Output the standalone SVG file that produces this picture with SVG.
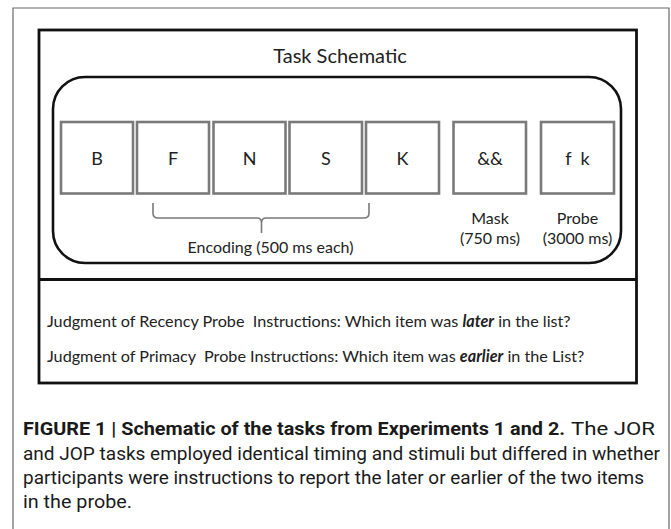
<svg xmlns="http://www.w3.org/2000/svg" width="671" height="529" viewBox="0 0 671 529">
  <style>
    .frame { fill: none; stroke: #6a6a6a; stroke-width: 1.2; }
    .panel { fill: none; stroke: #111; stroke-width: 2.8; }
    .track { fill: none; stroke: #111; stroke-width: 2.6; }
    .box { fill: #fff; stroke: #7a7a7a; stroke-width: 2.6; }
    .sym { font-family: Lato, "Open Sans", sans-serif; font-size: 18px; fill: #222; text-anchor: middle; }
    .lbl { font-family: Lato, "Open Sans", sans-serif; font-size: 16px; fill: #222; text-anchor: middle; }
    .title { font-family: Lato, "Open Sans", sans-serif; font-size: 20px; fill: #222; text-anchor: middle; }
    .instr { font-family: Lato, "Open Sans", sans-serif; font-size: 16.2px; fill: #222; }
    .brace { fill: none; stroke: #7a7a7a; stroke-width: 1.6; }
    .cap { font-family: Roboto, "Liberation Sans", sans-serif; font-size: 19px; fill: #1a1a1a; }
    .capb { font-weight: bold; }
  </style>

  <rect width="671" height="529" fill="#fff"/>

  <!-- page frame (open at the bottom) -->
  <path class="frame" d="M13,529 V8 H669 V529"/>

  <!-- schematic panel -->
  <g id="panel">
    <rect class="panel" x="39" y="30" width="597.5" height="353"/>
    <line class="panel" x1="39" y1="279.5" x2="636.5" y2="279.5"/>
    <text class="title" x="340" y="63">Task Schematic</text>
  </g>

  <!-- trial timeline -->
  <g id="timeline">
    <rect class="track" x="53" y="77" width="568" height="186" rx="32" ry="32"/>
  </g>

  <g id="item-B">
    <rect class="box" x="61" y="122" width="72" height="71.5"/>
    <text class="sym" x="97" y="165">B</text>
  </g>
  <g id="item-F">
    <rect class="box" x="137" y="122" width="72" height="71.5"/>
    <text class="sym" x="173" y="165">F</text>
  </g>
  <g id="item-N">
    <rect class="box" x="213.5" y="122" width="72" height="71.5"/>
    <text class="sym" x="249.5" y="165">N</text>
  </g>
  <g id="item-S">
    <rect class="box" x="289.5" y="122" width="72.5" height="71.5"/>
    <text class="sym" x="326" y="165">S</text>
  </g>
  <g id="item-K">
    <rect class="box" x="366" y="122" width="73" height="71.5"/>
    <text class="sym" x="402.5" y="165">K</text>
  </g>
  <g id="mask">
    <rect class="box" x="453.5" y="122" width="72.5" height="71.5"/>
    <text class="sym" x="490" y="165">&amp;&amp;</text>
    <text class="lbl" x="490" y="224">Mask</text>
    <text class="lbl" x="490" y="244">(750 ms)</text>
  </g>
  <g id="probe">
    <rect class="box" x="541" y="122" width="73" height="71.5"/>
    <text class="sym" x="577.5" y="165" xml:space="preserve">f  k</text>
    <text class="lbl" x="577.5" y="224">Probe</text>
    <text class="lbl" x="577.5" y="244">(3000 ms)</text>
  </g>

  <!-- encoding brace -->
  <g id="connectors">
    <path class="brace" d="M153,203 V213 Q153,218 158,218 H257 Q261.5,218 261.5,223 V233 M261.5,223 Q261.5,218 266,218 H364 Q369,218 369,213 V203"/>
  </g>
  <g id="encoding-label">
    <text class="lbl" x="270.5" y="253" font-size="17.5">Encoding (500 ms each)</text>
  </g>

  <!-- probe instructions -->
  <g id="instructions">
    <text class="instr" x="47" y="327" xml:space="preserve">Judgment of Recency Probe  Instructions: Which item was <tspan font-weight="bold" font-style="italic">later</tspan> in the list?</text>
    <text class="instr" x="47" y="362" xml:space="preserve">Judgment of Primacy  Probe Instructions: Which item was <tspan font-weight="bold" font-style="italic">earlier</tspan> in the List?</text>
  </g>

  <!-- caption -->
  <g id="caption">
    <text class="cap capb" x="23" y="435" textLength="542" lengthAdjust="spacingAndGlyphs">FIGURE 1 | Schematic of the tasks from Experiments 1 and 2.</text>
    <text class="cap" x="571" y="435" textLength="84" lengthAdjust="spacingAndGlyphs">The JOR</text>
    <text class="cap" x="23" y="460" textLength="637" lengthAdjust="spacingAndGlyphs">and JOP tasks employed identical timing and stimuli but differed in whether</text>
    <text class="cap" x="23" y="484" textLength="621" lengthAdjust="spacingAndGlyphs">participants were instructions to report the later or earlier of the two items</text>
    <text class="cap" x="23" y="508" textLength="109" lengthAdjust="spacingAndGlyphs">in the probe.</text>
  </g>
</svg>
